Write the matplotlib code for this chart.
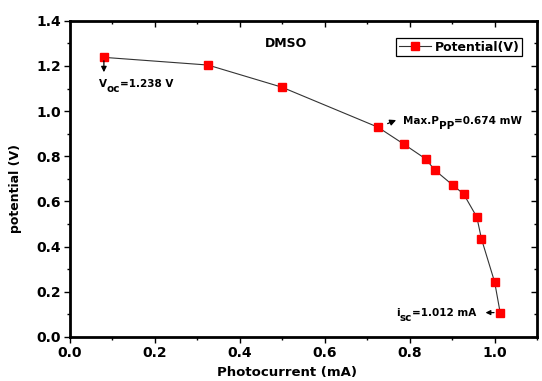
import matplotlib
matplotlib.use("Agg")
import matplotlib.pyplot as plt
from matplotlib.ticker import MultipleLocator
from matplotlib.transforms import offset_copy

plt.rcParams['font.family'] = ['DejaVu Sans']
plt.rcParams['font.weight'] = 'bold'

# --- data ---
photocurrent = [0.080, 0.325, 0.499, 0.725, 0.786, 0.838, 0.859,
                0.901, 0.927, 0.958, 0.969, 1.000, 1.013]
potential = [1.238, 1.204, 1.106, 0.929, 0.854, 0.788, 0.739,
             0.673, 0.633, 0.531, 0.434, 0.243, 0.108]
voc = 1.238
isc = 1.012
pmax = 0.674

fig = plt.figure(figsize=(5.42, 3.81), dpi=100)
ax = fig.add_axes([0.129, 0.1155, 0.862, 0.830])

ax.plot(photocurrent, potential, color='#333333', lw=0.8,
        marker='s', ms=5.8, mfc='red', mec='red', label='Potential(V)')

ax.set_xlim(0.0, 1.1)
ax.set_ylim(0.0, 1.4)
ax.xaxis.set_major_locator(MultipleLocator(0.2))
ax.xaxis.set_minor_locator(MultipleLocator(0.1))
ax.yaxis.set_major_locator(MultipleLocator(0.2))
ax.yaxis.set_minor_locator(MultipleLocator(0.1))

ax.tick_params(which='both', direction='out', width=1, labelsize=10,
               top=True, right=True, pad=2.5)
ax.tick_params(which='major', length=4)
ax.tick_params(which='minor', length=2.5)
# top / right ticks point inwards
for t in ax.xaxis.get_major_ticks() + ax.xaxis.get_minor_ticks():
    t.tick2line.set_marker(3)
for t in ax.yaxis.get_major_ticks() + ax.yaxis.get_minor_ticks():
    t.tick2line.set_marker(0)

for sp in ax.spines.values():
    sp.set_linewidth(2)

ax.set_xlabel('Photocurrent (mA)', fontsize=9.5, fontweight='bold')
ax.xaxis.set_label_coords(0.465, -0.092)
ax.set_ylabel('potential (V)', fontsize=9, fontweight='bold')
ax.yaxis.set_label_coords(-0.102, 0.468)

ax.text(0.508, 1.30, 'DMSO', fontsize=9, fontweight='bold', ha='center', va='center')

renderer = fig.canvas.get_renderer()


def sub_label(x, y, parts, size=7.5):
    # write text pieces one after another; subscript pieces are dropped down
    dx = 0
    for s, low in parts:
        tr = offset_copy(ax.transData, fig=fig, x=dx, y=-5 if low else 0, units='dots')
        t = ax.text(x, y, s, transform=tr, fontsize=size, fontweight='bold',
                    ha='left', va='center')
        dx += t.get_window_extent(renderer).width


# Voc annotation
ax.annotate('', xy=(photocurrent[0], 1.16), xytext=(photocurrent[0], 1.235),
            arrowprops=dict(arrowstyle='-|>', color='black', lw=0.9,
                            mutation_scale=8))
sub_label(0.068, 1.118, [('V', False), ('oc', True), ('=%.3f V' % voc, False)])

# Max power annotation
ax.annotate('', xy=(0.774, 0.965), xytext=(0.742, 0.94),
            arrowprops=dict(arrowstyle='-|>', color='black', lw=0.9,
                            mutation_scale=9))
sub_label(0.784, 0.955, [('Max.P', False), ('PP', True), ('=%.3f mW' % pmax, False)])

# Isc annotation
ax.annotate('', xy=(0.972, 0.108), xytext=(1.005, 0.108),
            arrowprops=dict(arrowstyle='-|>', color='black', lw=0.9,
                            mutation_scale=7))
sub_label(0.768, 0.108, [('i', False), ('sc', True), ('=%.3f mA' % isc, False)])

leg = ax.legend(loc='upper right', bbox_to_anchor=(0.968, 0.945),
                fancybox=False, framealpha=1, edgecolor='black',
                prop={'weight': 'bold', 'size': 9}, handlelength=2.6,
                borderpad=0.2, handletextpad=0.3, borderaxespad=0)
leg.get_frame().set_linewidth(0.9)

fig.savefig('out.png', dpi=100)
